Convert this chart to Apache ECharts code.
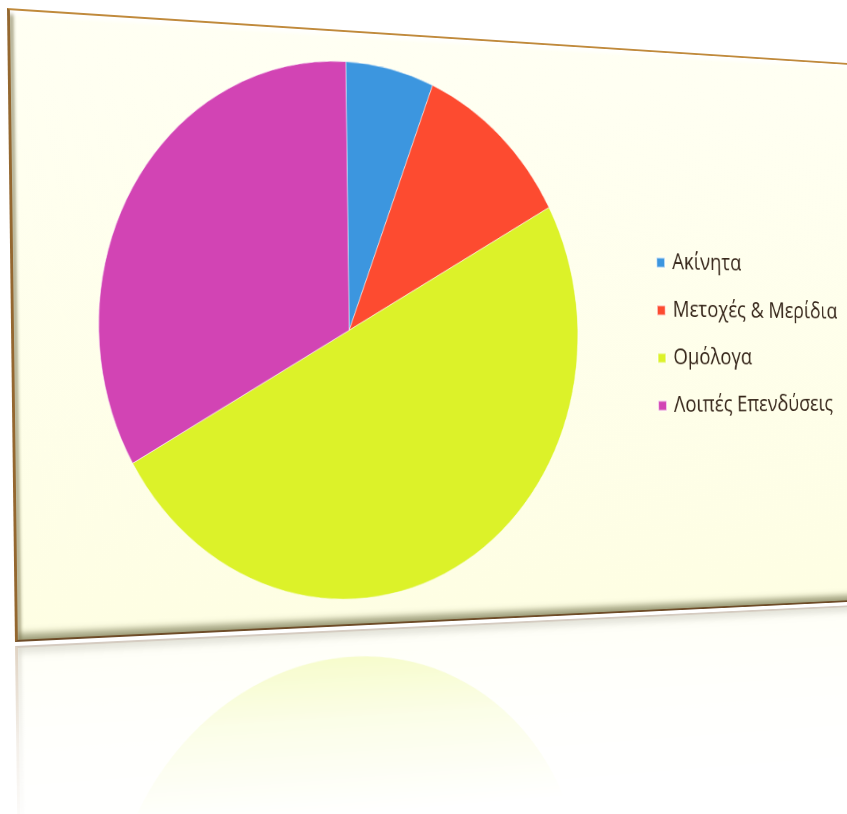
<!DOCTYPE html>
<html>
<head>
<meta charset="utf-8">
<script src="https://cdn.jsdelivr.net/npm/echarts@6/dist/echarts.min.js"></script>
<style>
  html, body { margin: 0; padding: 0; background: #ffffff; width: 847px; height: 814px; overflow: hidden; }
  #panel {
    position: absolute; left: 0; top: 0;
    width: 1080px; height: 634px; box-sizing: border-box;
    transform-origin: 0 0;
    background: linear-gradient(to bottom, #FFFFF3, #FEFEE3);
    border: 2px solid #C08A3C;
    border-left: 3px solid #94672F;
    border-bottom-color: #6E4C28;
    box-shadow:
      inset 0 6px 4px -2px #ffffff,
      inset 5px 0 3px -1px rgba(125, 120, 80, 0.5),
      inset 0 -8px 7px -2px rgba(100, 100, 60, 0.6);
    -webkit-box-reflect: below 4px linear-gradient(to bottom, transparent 69%, rgba(255, 255, 255, 0.11) 85%, rgba(255, 255, 255, 0.29) 100%);
  }
  #chart { position: absolute; left: 0; top: 0; width: 1075px; height: 630px; }
</style>
</head>
<body>
<div id="panel"><div id="chart"></div></div>
<script>
// Portfolio breakdown
const categories = ['Ακίνητα', 'Μετοχές & Μερίδια', 'Ομόλογα', 'Λοιπές Επενδύσεις'];
const shares = [6, 11, 50, 33];
const palette = ['#3C96DF', '#FD4B30', '#DCF229', '#D244B4'];

// Tilted panel: map the flat chart card onto a receding quadrilateral.
const PANEL_W = 1080, PANEL_H = 634;
const srcCorners = [[0, 0], [PANEL_W, 0], [PANEL_W, PANEL_H], [0, PANEL_H]];
const dstCorners = [[7, 8], [872, 64.7], [879, 600.5], [15, 642]];

function solveLinear(A, b) {
  const n = b.length;
  const M = A.map((row, i) => row.concat([b[i]]));
  for (let c = 0; c < n; c++) {
    let p = c;
    for (let r = c + 1; r < n; r++) if (Math.abs(M[r][c]) > Math.abs(M[p][c])) p = r;
    [M[c], M[p]] = [M[p], M[c]];
    for (let r = 0; r < n; r++) {
      if (r === c) continue;
      const f = M[r][c] / M[c][c];
      for (let k = c; k <= n; k++) M[r][k] -= f * M[c][k];
    }
  }
  return M.map((row, i) => row[n] / row[i]);
}

function homography(src, dst) {
  const A = [], b = [];
  for (let i = 0; i < 4; i++) {
    const [u, v] = src[i], [x, y] = dst[i];
    A.push([u, v, 1, 0, 0, 0, -u * x, -v * x]); b.push(x);
    A.push([0, 0, 0, u, v, 1, -u * y, -v * y]); b.push(y);
  }
  const h = solveLinear(A, b);
  h.push(1);
  return h;
}

const h = homography(srcCorners, dstCorners);
const m3d = [h[0], h[3], 0, h[6], h[1], h[4], 0, h[7], 0, 0, 1, 0, h[2], h[5], 0, h[8]];
document.getElementById('panel').style.transform = 'matrix3d(' + m3d.join(',') + ')';

const chart = echarts.init(document.getElementById('chart'), null, { renderer: 'canvas' });
chart.setOption({
  animation: false,
  backgroundColor: 'transparent',
  color: palette,
  legend: {
    orient: 'vertical',
    left: 763,
    top: 220,
    itemWidth: 11,
    itemHeight: 11,
    itemGap: 28,
    icon: 'rect',
    data: categories,
    textStyle: {
      fontFamily: 'Open Sans',
      fontSize: 25.5,
      color: '#36261A',
      padding: [0, 0, 0, 5]
    }
  },
  series: [{
    type: 'pie',
    center: [377, 317.5],
    radius: 286,
    startAngle: 90,
    clockwise: true,
    silent: true,
    label: { show: false },
    labelLine: { show: false },
    itemStyle: { borderColor: 'rgba(255,255,255,0.55)', borderWidth: 1 },
    data: categories.map((name, i) => ({ name, value: shares[i] }))
  }]
});
</script>
</body>
</html>
